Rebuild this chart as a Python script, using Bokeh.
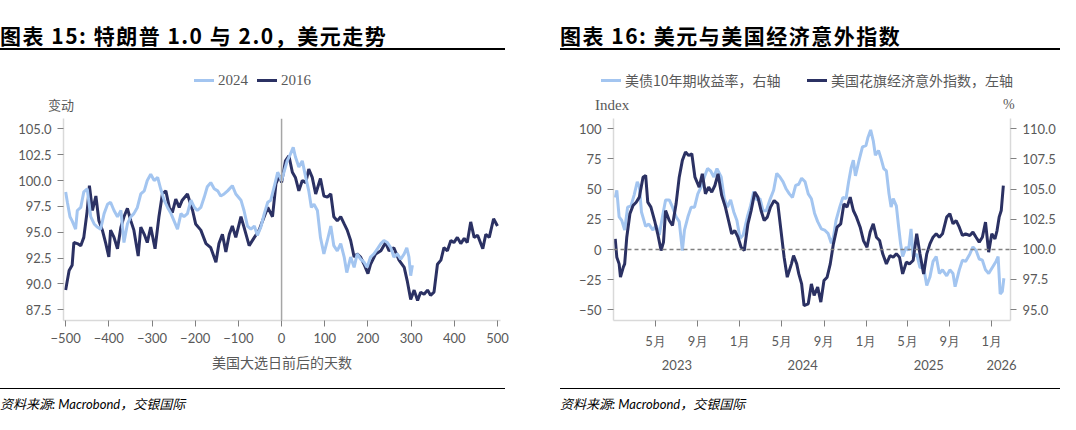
import numpy as np
import pandas as pd

from bokeh.embed import file_html
from bokeh.layouts import column, row
from bokeh.models import (
    CustomJSTickFormatter,
    Div,
    FixedTicker,
    LinearAxis,
    NumeralTickFormatter,
    Range1d,
    Span,
)
from bokeh.plotting import figure
from bokeh.resources import INLINE

# ── Chart 15: dollar index around US election day ─────────────────────────────
days_2016 = [
    -500, -492, -485, -481, -473, -465, -458, -450, -445, -438, -430, -423, -415,
    -407, -400, -396, -388, -380, -372, -365, -357, -349, -342, -332, -326, -318,
    -311, -303, -293, -284, -276, -268, -260, -253, -245, -237, -230, -218, -206,
    -199, -187, -175, -164, -152, -145, -137, -129, -121, -114, -106, -94, -87,
    -75, -63, -52, -44, -32, -21, -13, -5, 0, 9, 17, 25, 32, 40, 48, 56, 63, 71,
    79, 90, 98, 106, 114, 121, 129, 137, 145, 152, 160, 168, 175, 183, 191, 200,
    206, 218, 230, 241, 249, 260, 272, 284, 291, 299, 307, 315, 322, 330, 338,
    345, 353, 361, 369, 376, 384, 392, 399, 407, 415, 423, 430, 438, 446, 454,
    466, 473, 481, 491, 500,
]
dxy_2016 = [
    89.4, 91.3, 91.8, 94.0, 93.9, 93.7, 94.5, 97.1, 99.5, 97.1, 98.5, 96.1, 95.2,
    93.9, 92.6, 95.2, 94.5, 93.4, 95.5, 96.5, 97.3, 96.1, 95.2, 92.7, 95.5, 94.8,
    94.0, 95.5, 93.4, 96.5, 98.7, 99.0, 97.4, 96.9, 98.2, 97.4, 98.1, 98.7, 97.1,
    95.8, 95.2, 93.9, 93.5, 92.1, 93.9, 94.8, 93.1, 94.8, 95.6, 94.5, 96.5, 95.5,
    93.7, 94.5, 95.2, 96.1, 97.4, 96.5, 99.7, 100.5, 99.8, 101.9, 102.4, 100.8,
    100.3, 99.0, 100.0, 99.8, 101.1, 100.3, 98.7, 100.2, 98.5, 98.4, 98.7, 96.5,
    96.1, 96.5, 95.8, 95.2, 94.2, 92.6, 92.9, 92.6, 91.9, 91.0, 91.9, 92.9, 93.2,
    94.0, 93.2, 93.5, 92.3, 91.6, 90.3, 88.5, 89.4, 88.4, 89.2, 89.0, 89.4, 88.9,
    89.2, 91.9, 92.3, 93.5, 93.2, 94.2, 94.0, 94.5, 93.9, 94.4, 94.0, 96.0, 94.5,
    94.7, 93.4, 94.8, 94.5, 96.3, 95.6,
]
days_2024 = [
    -500, -496, -490, -485, -477, -473, -465, -458, -450, -442, -434, -427, -419,
    -411, -403, -396, -388, -380, -372, -365, -357, -349, -342, -334, -326, -318,
    -311, -303, -295, -287, -280, -272, -264, -256, -249, -241, -233, -226, -218,
    -210, -202, -195, -187, -179, -172, -164, -156, -148, -141, -133, -125, -114,
    -106, -94, -87, -79, -71, -63, -56, -48, -40, -32, -25, -17, -9, 0, 13, 21,
    27, 32, 40, 48, 56, 63, 69, 75, 83, 90, 98, 106, 114, 121, 129, 137, 145, 151,
    160, 168, 175, 183, 191, 198, 206, 214, 222, 230, 237, 245, 253, 260, 268,
    276, 284, 290, 295, 299, 303,
]
dxy_2024 = [
    98.9, 97.9, 96.5, 96.1, 95.3, 97.1, 97.4, 98.9, 99.2, 96.5, 95.8, 95.5, 95.3,
    96.8, 97.7, 97.9, 97.1, 96.5, 97.1, 94.0, 95.8, 96.5, 96.8, 97.4, 98.7, 99.0,
    100.0, 100.6, 100.0, 100.3, 99.2, 98.1, 97.4, 96.8, 96.1, 95.3, 96.8, 96.5,
    96.8, 98.1, 97.4, 97.1, 97.4, 98.4, 99.4, 99.8, 99.2, 99.0, 98.5, 98.7, 99.0,
    99.5, 98.7, 98.1, 97.1, 95.6, 95.3, 95.6, 94.7, 95.5, 96.8, 97.9, 98.1, 99.4,
    100.8, 100.0, 101.9, 102.6, 103.2, 102.3, 101.3, 101.9, 100.3, 99.0, 97.4,
    97.7, 97.1, 94.5, 92.9, 94.2, 95.6, 93.7, 93.2, 93.9, 92.6, 91.1, 92.6, 91.6,
    92.9, 92.4, 92.1, 91.6, 92.6, 92.9, 93.4, 93.9, 94.2, 94.0, 93.5, 92.6, 92.9,
    92.4, 92.9, 93.5, 92.6, 90.8, 91.8,
]
day_ticks = [-500, -400, -300, -200, -100, 0, 100, 200, 300, 400, 500]
dxy_ticks = [87.5, 90.0, 92.5, 95.0, 97.5, 100.0, 102.5, 105.0]

# ── Chart 16: months since 2023-01-01 ─────────────────────────────────────────
ust_t = [
    0.1, 0.25, 0.47, 0.72, 1.0, 1.28, 1.6, 1.9, 2.2, 2.4, 2.6, 3.0, 3.3, 3.7, 4.0,
    4.3, 4.6, 4.9, 5.25, 5.56, 5.9, 6.2, 6.5, 6.7, 7.03, 7.34, 7.66, 7.97, 8.3,
    8.6, 8.9, 9.2, 9.5, 9.8, 10.2, 10.5, 10.8, 11.1, 11.4, 11.7, 12.0, 12.3, 12.7,
    13.0, 13.3, 13.6, 13.9, 14.2, 14.5, 14.84, 15.2, 15.5, 15.8, 16.1, 16.4, 16.7,
    17.0, 17.3, 17.6, 17.87, 18.2, 18.5, 18.8, 19.1, 19.4, 19.75, 20.06, 20.4,
    20.7, 20.9, 21.15, 21.5, 21.8, 22.1, 22.35, 22.6, 22.8, 23.0, 23.35, 23.67,
    24.0, 24.2, 24.45, 24.7, 24.9, 25.2, 25.45, 25.7, 25.95, 26.2, 26.4, 26.6,
    26.9, 27.1, 27.3, 27.5, 27.84, 28.06, 28.3, 28.5, 28.84, 29.15, 29.5, 29.8,
    30.1, 30.4, 30.7, 31.0, 31.3, 31.7, 32.0, 32.3, 32.5, 32.9, 33.2, 33.5, 33.9,
    34.2, 34.5, 34.8, 35.1, 35.4, 35.7, 36.05, 36.4, 36.6, 36.8, 37.0, 37.15,
]
ust_v = [
    104.3, 104.9, 102.7, 102.4, 101.6, 103.5, 103.6, 104.5, 105.6, 105.2, 103.1,
    101.9, 102.1, 101.6, 102.0, 101.2, 102.7, 104.1, 104.1, 103.5, 102.7, 102.3,
    99.9, 101.6, 102.7, 103.5, 103.5, 104.6, 105.2, 106.0, 106.7, 106.5, 106.0,
    106.7, 106.0, 104.2, 103.5, 104.1, 103.1, 102.4, 100.9, 101.2, 102.7, 103.6,
    104.8, 104.1, 104.2, 103.2, 103.2, 104.1, 104.9, 106.3, 106.0, 105.6, 105.0,
    104.6, 104.3, 105.3, 105.4, 105.9, 105.6, 104.6, 104.2, 103.0, 102.3, 101.7,
    101.6, 101.3, 100.5, 101.0, 102.4, 103.5, 104.3, 104.2, 105.6, 106.8, 107.4,
    106.1, 107.4, 108.5, 108.6, 109.3, 109.9, 109.0, 107.8, 108.2, 107.5, 106.7,
    106.5, 104.6, 103.5, 104.2, 103.6, 102.0, 100.5, 99.4, 100.2, 99.9, 101.7,
    99.4, 99.6, 98.5, 98.5, 97.0, 97.7, 99.0, 99.4, 98.0, 98.3, 97.8, 98.3, 98.0,
    96.9, 98.3, 99.1, 99.0, 99.6, 100.2, 99.9, 99.2, 99.1, 98.3, 98.0, 98.5, 99.0,
    99.4, 96.3, 96.5, 97.6,
]
cesi_t = [
    0.1, 0.25, 0.47, 0.6, 0.87, 1.0, 1.2, 1.5, 1.8, 2.1, 2.4, 2.75, 3.0, 3.2, 3.5,
    3.85, 4.15, 4.47, 4.7, 4.9, 5.25, 5.56, 5.9, 6.2, 6.5, 6.8, 7.1, 7.4, 7.7,
    8.1, 8.4, 8.7, 9.0, 9.3, 9.6, 9.9, 10.25, 10.6, 10.9, 11.2, 11.5, 11.8, 12.1,
    12.4, 12.75, 13.06, 13.4, 13.7, 14.0, 14.3, 14.6, 14.9, 15.25, 15.6, 15.9,
    16.2, 16.5, 16.9, 17.1, 17.4, 17.6, 17.87, 18.1, 18.5, 18.8, 19.06, 19.4,
    19.7, 20.0, 20.3, 20.6, 20.9, 21.25, 21.6, 21.9, 22.2, 22.5, 22.8, 23.1,
    23.45, 23.76, 24.1, 24.4, 24.7, 25.0, 25.3, 25.6, 25.95, 26.3, 26.6, 26.9,
    27.2, 27.5, 27.85, 28.15, 28.5, 28.84, 29.15, 29.5, 29.8, 30.1, 30.4, 30.7,
    31.0, 31.3, 31.7, 32.0, 32.3, 32.6, 32.9, 33.2, 33.5, 33.9, 34.2, 34.5, 34.8,
    35.1, 35.4, 35.7, 36.0, 36.3, 36.5, 36.7, 36.9, 37.1,
]
cesi_v = [
    8.8, -6.4, -11.9, -22.9, -14.6, -11.9, 10.2, 29.6, 36.5, 39.2, 43.4, 59.9,
    61.3, 39.2, 35.1, 24.0, 13.0, -0.8, 6.1, 32.3, 24.0, 19.9, 37.8, 59.9, 73.8,
    80.7, 77.9, 79.3, 59.9, 51.7, 62.7, 46.1, 51.7, 47.5, 53.0, 62.7, 44.8, 35.1,
    24.0, 13.0, 15.7, 10.2, 1.9, -0.8, 21.3, 32.3, 47.5, 43.4, 32.3, 24.0, 26.8,
    35.1, 40.6, 37.8, 15.7, -6.4, -22.9, -11.9, -5.0, -11.9, -20.2, -28.5, -46.4,
    -45.0, -28.5, -38.1, -31.2, -43.6, -25.7, -22.9, -11.9, 4.7, 18.5, 21.3, 37.8,
    35.1, 43.4, 32.3, 26.8, 18.5, 7.5, 1.9, 14.4, 21.3, 10.2, 7.5, -3.6, -11.9,
    -5.0, -6.4, -3.6, -6.4, -20.2, -10.5, -11.9, -9.1, 13.0, -3.6, -20.2, -3.6,
    4.7, 10.2, 13.0, 10.2, 13.0, 26.8, 29.6, 21.3, 24.0, 18.5, 11.6, 13.0, 11.6,
    14.4, 10.2, 6.1, 10.2, 22.7, -2.2, 13.0, 8.8, 15.7, 26.8, 32.3, 53.0,
]
month_ticks = [
    "2023-05-01", "2023-09-01", "2024-01-01", "2024-05-01", "2024-09-01",
    "2025-01-01", "2025-05-01", "2025-09-01", "2026-01-01",
]
year_label_dates = ["2023-07-02", "2024-07-01", "2025-07-02", "2026-01-29"]
cesi_ticks = [-50, -25, 0, 25, 50, 75, 100]
ust_ticks = [95.0, 97.5, 100.0, 102.5, 105.0, 107.5, 110.0]

LIGHT = "#a3c5f0"
DARK = "#2b3163"
TXT = "#595959"
NUM_FONT = "Lato"
CJK_FONT = "Noto Sans CJK SC"
SERIF = "Liberation Serif"
STRIP_H = 68

EPOCH = pd.Timestamp("1970-01-01")
BASE = pd.Timestamp("2023-01-01")


def months_to_ms(months):
    ts = BASE + pd.to_timedelta(np.asarray(months) * 30.4375, unit="D")
    return ((ts - EPOCH) // pd.Timedelta("1ms")).astype(float)


def date_ms(s):
    return float((pd.Timestamp(s) - EPOCH) // pd.Timedelta("1ms"))


def style_axis(ax):
    ax.axis_line_color = "#d9d9d9"
    ax.axis_line_width = 1.5
    ax.major_tick_line_color = "#808080"
    ax.major_tick_in = 0
    ax.major_tick_out = 6
    ax.minor_tick_line_color = None
    ax.major_label_text_font = NUM_FONT
    ax.major_label_text_font_size = "13px"
    ax.major_label_text_color = TXT
    ax.major_label_standoff = 6


def header(text, width):
    return Div(
        text=(
            f'<div style="width:{width}px;height:50px;box-sizing:border-box;'
            f'border-bottom:2px solid #000;padding-top:23px;white-space:nowrap;'
            f"font-family:'{CJK_FONT}';font-weight:bold;font-size:21px;"
            f'letter-spacing:1.5px;line-height:24px;color:#000">{text}</div>'
        ),
        width=width, height=50, margin=(0, 0, 0, 0),
    )


def footer(width):
    return Div(
        text=(
            f'<div style="width:{width}px;height:28px;box-sizing:border-box;'
            f'border-top:1.5px solid #000;padding-top:7px;white-space:nowrap;'
            f"font-family:'{NUM_FONT}','{CJK_FONT}';font-style:italic;"
            f'font-size:13px;line-height:16px;color:#000">'
            f"资料来源: Macrobond，交银国际</div>"
        ),
        width=width, height=28, margin=(0, 0, 0, 0),
    )


def strip(width, legend, units):
    # band between the header rule and the plot frame: legend row + unit captions
    parts = []
    for label, color, x, font, size in legend:
        parts.append(
            f'<span style="position:absolute;left:{x}px;top:29px;width:20px;'
            f'height:3px;background:{color}"></span>'
            f'<span style="position:absolute;left:{x + 24}px;top:21px;'
            f"line-height:18px;white-space:nowrap;font-family:'{font}';"
            f'font-size:{size};color:{TXT}">{label}</span>'
        )
    for text, x, font, size in units:
        parts.append(
            f'<span style="position:absolute;left:{x}px;top:46px;'
            f"line-height:18px;white-space:nowrap;font-family:'{font}';"
            f'font-size:{size};color:{TXT}">{text}</span>'
        )
    return Div(
        text=(f'<div style="position:relative;width:{width}px;height:{STRIP_H}px">'
              + "".join(parts) + "</div>"),
        width=width, height=STRIP_H, margin=(0, 0, 0, 0),
    )


# ── Left chart ────────────────────────────────────────────────────────────────
s1 = strip(
    560,
    [("2024", LIGHT, 194, SERIF, "15px"), ("2016", DARK, 257, SERIF, "15px")],
    [("变动", 48, CJK_FONT, "13px")],
)

p1 = figure(
    width=560, height=270,
    x_range=Range1d(-505, 507), y_range=Range1d(86.46, 106.0),
    min_border_left=63, min_border_right=60, min_border_top=0, min_border_bottom=68,
    toolbar_location=None, output_backend="svg",
)
p1.grid.visible = False
p1.outline_line_color = None
p1.add_layout(Span(location=0, dimension="height", line_color="#a6a6a6", line_width=1.5))

p1.line(days_2016, dxy_2016, line_color=DARK, line_width=3)
p1.line(days_2024, dxy_2024, line_color=LIGHT, line_width=3)

for ax in p1.axis:
    style_axis(ax)
p1.xaxis.ticker = FixedTicker(ticks=day_ticks)
p1.yaxis.ticker = FixedTicker(ticks=dxy_ticks)
p1.yaxis.formatter = NumeralTickFormatter(format="0.0")
p1.xaxis.axis_label = "美国大选日前后的天数"
p1.xaxis.axis_label_text_font = CJK_FONT
p1.xaxis.axis_label_text_font_style = "normal"
p1.xaxis.axis_label_text_font_size = "14px"
p1.xaxis.axis_label_text_color = TXT
p1.xaxis.axis_label_standoff = 6

# ── Right chart ───────────────────────────────────────────────────────────────
s2 = strip(
    500,
    [("美债10年期收益率，右轴", LIGHT, 41, CJK_FONT, "14px"),
     ("美国花旗经济意外指数，左轴", DARK, 247, CJK_FONT, "14px")],
    [("Index", 35, SERIF, "15px"), ("%", 443, SERIF, "14px")],
)

p2 = figure(
    width=500, height=270, x_axis_type="datetime",
    x_range=Range1d(date_ms("2022-12-30"), date_ms("2026-02-24")),
    y_range=Range1d(-58.8, 108.5),
    min_border_left=53, min_border_right=50, min_border_top=0, min_border_bottom=68,
    toolbar_location=None, output_backend="svg",
)
p2.grid.visible = False
p2.outline_line_color = None
p2.extra_y_ranges = {"ust": Range1d(94.1, 110.85)}
p2.add_layout(Span(location=0, dimension="width", line_color="#808080",
                   line_width=1.5, line_dash="4 3"))

p2.line(months_to_ms(ust_t), ust_v, y_range_name="ust", line_color=LIGHT, line_width=3)
p2.line(months_to_ms(cesi_t), cesi_v, line_color=DARK, line_width=3)

p2.add_layout(LinearAxis(
    y_range_name="ust", ticker=FixedTicker(ticks=ust_ticks),
    formatter=NumeralTickFormatter(format="0.0"),
), "right")
p2.add_layout(LinearAxis(
    ticker=FixedTicker(ticks=[date_ms(d) for d in year_label_dates]),
    formatter=CustomJSTickFormatter(code="return String(new Date(tick).getUTCFullYear());"),
), "below")

for ax in p2.axis:
    style_axis(ax)
p2.yaxis[0].ticker = FixedTicker(ticks=cesi_ticks)
p2.xaxis[0].ticker = FixedTicker(ticks=[date_ms(d) for d in month_ticks])
p2.xaxis[0].formatter = CustomJSTickFormatter(
    code='return (new Date(tick).getUTCMonth() + 1) + "月";'
)
year_axis = p2.xaxis[1]
year_axis.axis_line_color = None
year_axis.major_tick_line_color = None
year_axis.major_label_standoff = 2

left = column(header("图表 15: 特朗普 1.0 与 2.0，美元走势", 505), s1, p1, footer(505))
right = column(header("图表 16: 美元与美国经济意外指数", 500), s2, p2, footer(500))
layout = row(left, right)

open("out.html", "w").write(file_html(layout, INLINE))
